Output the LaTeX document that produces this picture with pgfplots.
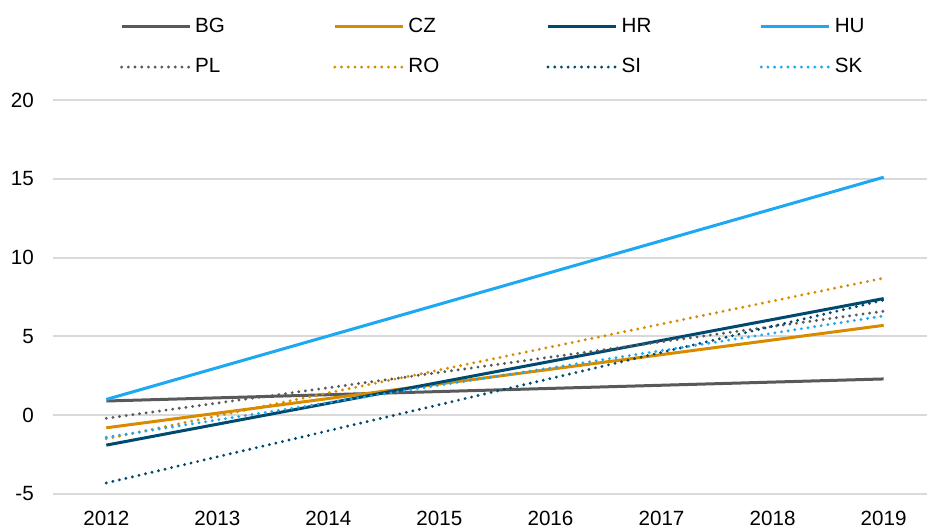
\documentclass[border=0pt]{standalone}
\usepackage{pgfplots}
\pgfplotsset{compat=1.18}
\usepackage{fontspec}
\setmainfont{Liberation Sans}
\definecolor{cBG}{HTML}{58595B}
\definecolor{cCZ}{HTML}{D98B00}
\definecolor{cHR}{HTML}{004A70}
\definecolor{cHU}{HTML}{1CA8F2}
\definecolor{cgrid}{HTML}{D9D9D9}
\begin{document}
\fontsize{10.3}{12}\selectfont
\begin{tikzpicture}
\begin{axis}[
  scale only axis, width=437pt, height=197pt,
  xmin=2011.52, xmax=2019.39, ymin=-5, ymax=20,
  xtick={2012,...,2019}, ytick={-5,0,...,20},
  /pgf/number format/assume math mode=true,
  /pgf/number format/1000 sep={},
  x tick label style={yshift=-5pt},
  y tick label style={xshift=-6pt},
  tick label style={font=\fontsize{10.3}{12}\selectfont},
  axis line style={draw=none},
  major tick length=0pt,
  ymajorgrids, grid style={cgrid, line width=1pt},
  clip=false,
  solidS/.style={line width=1.5pt},
  dotS/.style={line width=1.6pt, line cap=round, dash pattern=on 0pt off 3.35pt},
  legend columns=4,
  legend image code/.code={\draw[#1] (0pt,0pt) -- (34pt,0pt);},
  legend style={draw=none, fill=none, inner sep=0pt, outer sep=0pt,
    anchor=west, at={(0.0767,1.135)}, row sep=7.5pt,
    font=\fontsize{10.3}{12}\selectfont, cells={anchor=west}},
]
\addplot[cBG, solidS] coordinates {(2012,0.9) (2019,2.3)};
\addlegendentry{\makebox[67pt][l]{BG}}
\addplot[cCZ, solidS] coordinates {(2012,-0.8) (2019,5.7)};
\addlegendentry{\makebox[67pt][l]{CZ}}
\addplot[cHR, solidS] coordinates {(2012,-1.9) (2019,7.4)};
\addlegendentry{\makebox[67pt][l]{HR}}
\addplot[cHU, solidS] coordinates {(2012,1.0) (2019,15.1)};
\addlegendentry{\makebox[67pt][l]{HU}}
\addplot[cBG, dotS] coordinates {(2012,-0.2) (2019,6.6)};
\addlegendentry{\makebox[67pt][l]{PL}}
\addplot[cCZ, dotS] coordinates {(2012,-1.5) (2019,8.7)};
\addlegendentry{\makebox[67pt][l]{RO}}
\addplot[cHR, dotS] coordinates {(2012,-4.3) (2019,7.3)};
\addlegendentry{\makebox[67pt][l]{SI}}
\addplot[cHU, dotS] coordinates {(2012,-1.4) (2019,6.3)};
\addlegendentry{\makebox[67pt][l]{SK}}
\end{axis}
\pgfresetboundingbox
\path[use as bounding box] (-26.5pt,-17.5pt) rectangle (437.5pt,247pt);
\end{tikzpicture}
\end{document}
